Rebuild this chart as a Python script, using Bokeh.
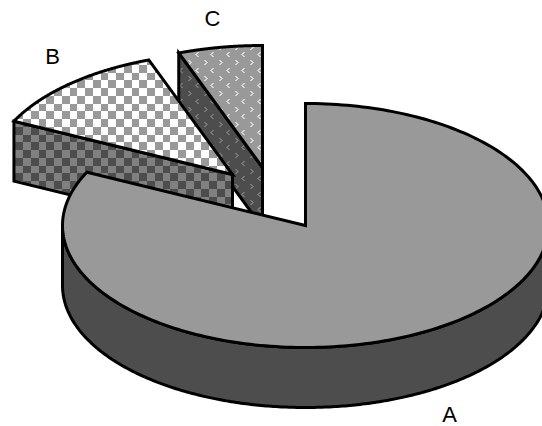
import base64, struct, zlib
import numpy as np
from bokeh.embed import file_html
from bokeh.models import ImageURLTexture, Range1d
from bokeh.plotting import figure
from bokeh.resources import INLINE
from bokeh.core.properties import value

categories = ["A", "B", "C"]
shares = [82.2, 12.2, 5.6]
offset_x = [0, -73, -43]
offset_y = [0, -51, -58]
label_x = [449, 52, 212]
label_y = [414, 56, 18]
top_colors = ["#999999", "#999999", "#999999"]
wall_colors = ["#4d4d4d", "#4d4d4d", "#4d4d4d"]

CX, CY, RX, RY, DEPTH = 305, 225, 243, 122, 60
TEX = 31
CELL = 7.75


def png_uri(grid, palette):
    raw = b""
    for row in grid:
        raw += b"\x00" + b"".join(bytes(palette[c]) for c in row)
    def chunk(t, d):
        return struct.pack(">I", len(d)) + t + d + struct.pack(">I", zlib.crc32(t + d))
    h, w = len(grid), len(grid[0])
    data = (b"\x89PNG\r\n\x1a\n" + chunk(b"IHDR", struct.pack(">IIBBBBB", w, h, 8, 2, 0, 0, 0))
            + chunk(b"IDAT", zlib.compress(raw)) + chunk(b"IEND", b""))
    return "data:image/png;base64," + base64.b64encode(data).decode()


PAL = {0: (0x99, 0x99, 0x99), 1: (255, 255, 255), 2: (0x4d, 0x4d, 0x4d), 3: (0x80, 0x80, 0x80), 4: (0xd6, 0xd6, 0xd6), 5: (0x78, 0x78, 0x78)}


def checker(even, odd):
    g = [[even if (int(np.floor((x - 15 + TEX * 10) / CELL)) + int(np.floor((y - 95.5 + TEX * 10) / CELL))) % 2 == 0 else odd
          for x in range(TEX)] for y in range(TEX)]
    return ImageURLTexture(url=png_uri(g, PAL))


def chevrons(bg, fg):
    g = [[bg for _ in range(TEX)] for _ in range(TEX)]
    left = [(0, -2), (1, -2), (-1, -1), (0, -1), (-2, 0), (-1, 0), (-1, 1), (0, 1), (0, 2), (1, 2)]
    right = [(-x, y) for x, y in left]
    for i in range(2):
        for j in range(2):
            cx, cy = int(11 + 15.5 * i), int(8 + 15.5 * j)
            for dx_, dy_ in left:
                g[(cy + dy_) % TEX][(cx + dx_) % TEX] = fg
            cx, cy = int(19 + 15.5 * i), int(16 + 15.5 * j)
            for dx_, dy_ in right:
                g[(cy + dy_) % TEX][(cx + dx_) % TEX] = fg
    return ImageURLTexture(url=png_uri(g, PAL))


textures = {
    "b_top": checker(0, 1),
    "b_wall": checker(2, 3),
    "c_top": chevrons(0, 4),
    "c_wall": chevrons(2, 5),
}

p = figure(width=542, height=426, output_backend="svg", toolbar_location=None,
           x_range=Range1d(0, 542), y_range=Range1d(426, 0),
           min_border=0, outline_line_color=None)
p.xaxis.visible = False
p.yaxis.visible = False
p.grid.visible = False

# pie angles, clockwise from twelve o'clock
fr = np.array(shares) / sum(shares)
ends = np.cumsum(fr) * 2 * np.pi


def pt(a, dx=0, dy=0):
    return CX + dx + RX * np.sin(a), CY + dy - RY * np.cos(a)


def wedge(a0, a1, dx, dy):
    t = np.linspace(a0, a1, 240)
    x, y = pt(t, dx, dy)
    return np.r_[CX + dx, x], np.r_[CY + dy, y]


style = dict(line_color="black", line_width=3, line_join="miter")

# C: cut wall, then top
a0, a1 = ends[1], ends[2]
dx, dy = offset_x[2], offset_y[2]
ex, ey = pt(a0, dx, dy)
p.patch([ex, CX + dx, CX + dx, ex], [ey, CY + dy, CY + dy + DEPTH, ey + DEPTH],
        fill_color=wall_colors[2], hatch_pattern="c_wall", hatch_extra=textures, hatch_alpha=1.0, **style)
x, y = wedge(a0, a1, dx, dy)
p.patch(x, y, fill_color=top_colors[2], hatch_pattern="c_top", hatch_extra=textures, hatch_alpha=1.0, **style)

# B: cut wall, then top
a0, a1 = ends[0], ends[1]
dx, dy = offset_x[1], offset_y[1]
ex, ey = pt(a0, dx, dy)
p.patch([ex, CX + dx, CX + dx, ex], [ey, CY + dy, CY + dy + DEPTH, ey + DEPTH],
        fill_color=wall_colors[1], hatch_pattern="b_wall", hatch_extra=textures, hatch_alpha=1.0, **style)
x, y = wedge(a0, a1, dx, dy)
p.patch(x, y, fill_color="white", hatch_pattern="b_top", hatch_extra=textures, hatch_alpha=1.0, **style)

# A: outer wall, then top
tt = np.linspace(np.pi / 2, 3 * np.pi / 2, 300)
xb, yb = pt(tt)
p.patch(np.r_[xb, xb[::-1]], np.r_[yb, yb[::-1] + DEPTH], fill_color=wall_colors[0], **style)
x, y = wedge(0, ends[0], 0, 0)
p.patch(x, y, fill_color=top_colors[0], **style)

p.text(label_x, label_y, text=categories, text_font=value("Liberation Sans"), text_font_size="22px",
       text_align="center", text_baseline="middle", text_color="black")

open("out.html", "w").write(file_html(p, INLINE))
